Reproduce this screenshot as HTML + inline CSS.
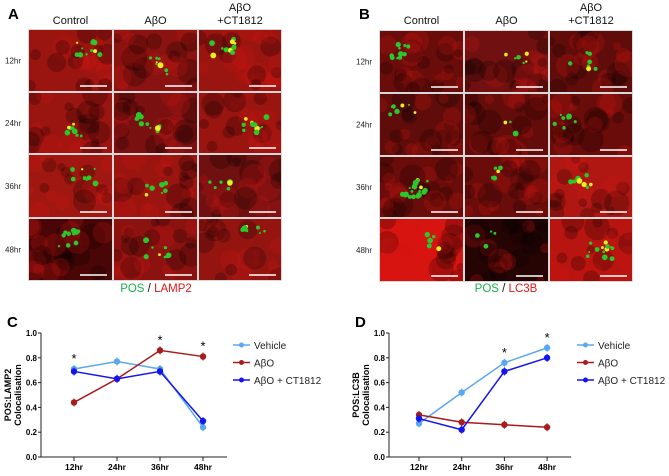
<!DOCTYPE html>
<html><head><meta charset="utf-8"><style>
html,body{margin:0;padding:0;background:#fff;}
svg{display:block;font-family:"Liberation Sans",Arial,sans-serif;}
</style></head><body>
<svg id="fig" width="669" height="476" viewBox="0 0 669 476">
<defs id="defs"></defs>
<g id="panels"></g>
<g id="charts"></g>
</svg>
<script>
// ---- chart data ----
const timepoints = ["12hr","24hr","36hr","48hr"];
const yTicks = [0.0,0.2,0.4,0.6,0.8,1.0];
const seriesNames = ["Vehicle","AβO","AβO + CT1812"];
const lampVehicle = [0.71,0.77,0.71,0.24];
const lampAbo = [0.44,0.63,0.86,0.81];
const lampCt = [0.69,0.63,0.69,0.29];
const lc3Vehicle = [0.27,0.52,0.76,0.88];
const lc3Abo = [0.34,0.28,0.26,0.24];
const lc3Ct = [0.31,0.22,0.69,0.80];
const lampStars = [0,2,3];
const lc3Stars = [2,3];

const NS="http://www.w3.org/2000/svg";
function mk(tag,attrs,parent){const e=document.createElementNS(NS,tag);for(const k in attrs)e.setAttribute(k,attrs[k]);parent.appendChild(e);return e;}
const panels=document.getElementById('panels');
const charts=document.getElementById('charts');
const defs=document.getElementById('defs');
let clipId=0;

// ---- microscopy panels ----
let seed=7;function rnd(){seed=(seed*16807)%2147483647;return seed/2147483647;}
function grid(x0,y0,xs,ys,colors,label,caption,capX,greens){
  const g=mk('g',{},panels);
  
  
  mk('rect',{x:xs[0],y:ys[0],width:xs[3]-xs[0],height:ys[4]-ys[0],fill:'#d8d8d8'},g);
  const l=mk('text',{x:x0-20,y:19,'font-size':15,'font-weight':'bold',fill:'#000'},g);l.textContent=label;
  
  
  const heads=[["Control"],["AβO"],["AβO","+CT1812"]];
  for(let c=0;c<3;c++){
    const cx=(xs[c]+xs[c+1])/2;
    const h=heads[c];
    h.forEach((t,i)=>{const tx=mk('text',{x:cx,y:h.length==2?(11+i*13):24,'font-size':11,'text-anchor':'middle',fill:'#111'},g);tx.textContent=t;
      
      });
  }
  for(let r=0;r<4;r++){
    const ty=mk('text',{x:x0-23,y:(ys[r]+ys[r+1])/2+3,'font-size':8,fill:'#222'},g);ty.textContent=timepoints[r];
    
    
    for(let c=0;c<3;c++){
      const x=xs[c]+1,y=ys[r]+1,w=xs[c+1]-xs[c]-2,h=ys[r+1]-ys[r]-2;
      const id='cl'+(clipId++);
      const cp=mk('clipPath',{id},defs);
      mk('rect',{x,y,width:w,height:h},cp);
      const cg=mk('g',{'clip-path':'url(#'+id+')'},g);
      const col=colors[r][c];
      const rect=mk('rect',{x,y,width:w,height:h,fill:col},cg);
      
      
      for(let i=0;i<22;i++){mk('circle',{cx:x+rnd()*w,cy:y+rnd()*h,r:4+rnd()*9,fill:rnd()<0.5?'#000':'#d01810','fill-opacity':0.22},cg);}
      const ng=greens[r][c];
      const bx=x+12+rnd()*(w-34),by=y+10+rnd()*(h-28);
      for(let i=0;i<ng;i++){mk('circle',{cx:bx+(rnd()-0.5)*26,cy:by+(rnd()-0.5)*18,r:1+rnd()*2,fill:rnd()<0.2?'#e8f020':'#2ac82a'},cg);}
      mk('line',{x1:x+w-32,y1:y+h-5,x2:x+w-5,y2:y+h-5,stroke:'#fff','stroke-width':1.5},cg);
    }
  }
  const cap=mk('text',{x:capX,y:292,'font-size':11.5,'text-anchor':'middle'},g);
  
  
  const a=mk('tspan',{fill:'#19b24a'},cap);a.textContent='POS';
  const b=mk('tspan',{fill:'#111'},cap);b.textContent=' / ';
  const d=mk('tspan',{fill:'#e01818'},cap);d.textContent=caption;
}
const R='#9a1410',D='#6a0c0a';
grid(28,28,[28,113,198,282],[29,92,154,218,281],
 [[R,'#8a1210',R],[R,'#7a1010',R],['#a01610',R,'#701010'],['#4a0606','#8c1210','#941410']],
 'A','LAMP2',156,[[12,8,10],[9,10,12],[8,8,6],[10,8,8]]);
grid(379,30,[379,464,549,633],[30,93,156,218,282],
 [[D,'#701010','#600c0a'],['#600c0a','#640c0a','#6a0c0a'],['#6a0c0a','#6a0c0a','#b01612'],['#d81410','#260404','#b81410']],
 'B','LC3B',506,[[10,6,8],[7,3,8],[18,6,8],[6,4,14]]);

// ---- line charts ----
function chart(opt){
  const g=mk('g',{},charts);
  
  
  const ax=opt.ax, y0=457, y1=333, tx=opt.tx;
  const ys=v=>y0-(v)*(y0-y1);
  const xs=i=>tx[0]+i*(tx[1]-tx[0]);
  const lab=mk('text',{x:ax-34,y:y1-6,'font-size':15,'font-weight':'bold'},g);lab.textContent=opt.letter;
  
  
  mk('line',{x1:ax,y1:y1,x2:ax,y2:y0,stroke:'#222','stroke-width':1},g);
  mk('line',{x1:ax,y1:y0,x2:xs(3)+24,y2:y0,stroke:'#222','stroke-width':1},g);
  yTicks.forEach(v=>{mk('line',{x1:ax-3,y1:ys(v),x2:ax,y2:ys(v),stroke:'#222'},g);
    const t=mk('text',{x:ax-4,y:ys(v)+3,'font-size':8,'font-weight':'bold','text-anchor':'end'},g);t.textContent=v.toFixed(1);
    
    });
  timepoints.forEach((s,i)=>{mk('line',{x1:xs(i),y1:y0,x2:xs(i),y2:y0+4,stroke:'#222'},g);
    const t=mk('text',{x:xs(i),y:y0+13,'font-size':8.5,'font-weight':'bold','text-anchor':'middle'},g);t.textContent=s;
    
    });
  const yt=mk('text',{'font-size':9,'font-weight':'bold','text-anchor':'middle',transform:`translate(${ax-30},${(y0+y1)/2}) rotate(-90)`},g);
  
  
  const t1=mk('tspan',{x:0,dy:0},yt);t1.textContent=opt.ytitle;
  const t2=mk('tspan',{x:0,dy:10},yt);t2.textContent='Colocalisation';
  const cols=['#5aa8f0','#a81c1c','#1414ee'];
  opt.series.forEach((data,si)=>{
    const pts=data.map((v,i)=>xs(i)+','+ys(v)).join(' ');
    const pl=mk('polyline',{points:pts,fill:'none',stroke:cols[si],'stroke-width':1.5},g);
    
    
    data.forEach((v,i)=>{
      mk('line',{x1:xs(i),y1:ys(v)-4,x2:xs(i),y2:ys(v)+4,stroke:cols[si],'stroke-width':1},g);
      const c=mk('circle',{cx:xs(i),cy:ys(v),r:3.2,fill:cols[si]},g);
      
      
    });
  });
  opt.stars.forEach(i=>{const top=Math.max(...opt.series.map(s=>s[i]));
    const st=mk('text',{x:xs(i),y:ys(top)-6,'font-size':13,'text-anchor':'middle'},g);st.textContent='*';
    
    });
  seriesNames.forEach((n,si)=>{
    const ly=345+si*17.5;
    const le=mk('g',{},g);
    
    
    mk('line',{x1:opt.lx,y1:ly,x2:opt.lx+17,y2:ly,stroke:cols[si],'stroke-width':1.5},le);
    mk('circle',{cx:opt.lx+8.5,cy:ly,r:2.5,fill:cols[si]},le);
    const t=mk('text',{x:opt.lx+21,y:ly+4,'font-size':10,fill:'#222'},le);t.textContent=n;
  });
}
chart({name:'chart-lamp2',letter:'C',ax:41,tx:[74,117],ytitle:'POS:LAMP2',series:[lampVehicle,lampAbo,lampCt],stars:lampStars,lx:233});
chart({name:'chart-lc3b',letter:'D',ax:389,tx:[419,461.7],ytitle:'POS:LC3B',series:[lc3Vehicle,lc3Abo,lc3Ct],stars:lc3Stars,lx:577});
</script>
</body></html>
